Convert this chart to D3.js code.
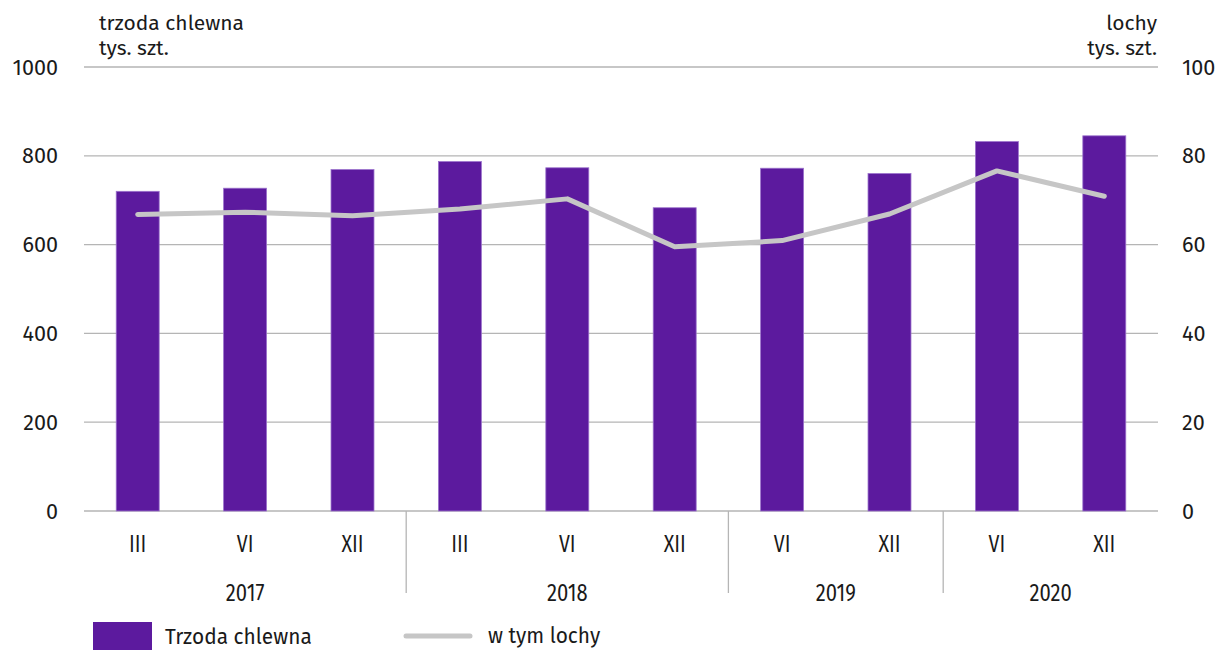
<!DOCTYPE html>
<html>
<head>
<meta charset="utf-8">
<script src="https://cdn.jsdelivr.net/npm/d3@7"></script>
<style>
  body { margin: 0; background: #fff; }
  svg text { font-family: "Fira Sans", "Noto Sans", "Open Sans", sans-serif; fill: #1a1a1a; }
</style>
</head>
<body>
<div id="container"></div>
<script>
// data
var months = ['III', 'VI', 'XII', 'III', 'VI', 'XII', 'VI', 'XII', 'VI', 'XII'];
var years = ['2017', '2017', '2017', '2018', '2018', '2018', '2019', '2019', '2020', '2020'];
var trzoda = [720, 727, 769, 787, 773, 683, 772, 760, 832, 845];
var lochy = [66.8, 67.3, 66.5, 68.0, 70.3, 59.5, 60.9, 66.9, 76.6, 70.9];
var leftTicks = [0, 200, 400, 600, 800, 1000];
var rightTicks = [0, 20, 40, 60, 80, 100];

var width = 1217, height = 650;
var margin = {top: 67, right: 59, bottom: 139, left: 84};

var svg = d3.select('#container').append('svg')
	.attr('width', width)
	.attr('height', height);

var keys = d3.range(trzoda.length);

var x = d3.scaleBand()
	.domain(keys)
	.range([margin.left, width - margin.right])
	.paddingInner(0.6)
	.paddingOuter(0.3);

var yL = d3.scaleLinear().domain([0, 1000]).range([height - margin.bottom, margin.top]);
var yR = d3.scaleLinear().domain([0, 100]).range([height - margin.bottom, margin.top]);

// text narrowed a bit horizontally, like the original
function label(parent, xx, yy, size, anchor, txt, sx) {
	return parent.append('text')
		.attr('transform', 'translate(' + xx + ',' + yy + ') scale(' + (sx || 1) + ',1)')
		.attr('text-anchor', anchor)
		.style('font-size', size + 'px')
		.text(txt);
}

// gridlines
svg.append('g')
	.selectAll('line')
	.data(leftTicks)
	.enter().append('line')
	.attr('x1', margin.left)
	.attr('x2', width - margin.right)
	.attr('y1', d => yL(d))
	.attr('y2', d => yL(d))
	.attr('stroke', '#b5b5b5')
	.attr('stroke-width', 1.3);

var gl = svg.append('g');
leftTicks.forEach(d => {
	label(gl, 58, yL(d) + 7.5, 22, 'end', d, 0.98);
});

var gr = svg.append('g');
rightTicks.forEach(d => {
	label(gr, 1182, yR(d) + 7.5, 22, 'start', d, 0.98);
});

// axis titles
label(svg, 99, 30, 21, 'start', 'trzoda chlewna', 1);
label(svg, 99, 55, 21, 'start', 'tys. szt.', 1);
label(svg, 1157, 30, 21, 'end', 'lochy', 1);
label(svg, 1157, 55, 21, 'end', 'tys. szt.', 1);

// bars
svg.append('g')
	.selectAll('rect')
	.data(keys)
	.enter().append('rect')
	.attr('x', i => x(i))
	.attr('width', x.bandwidth())
	.attr('y', i => yL(trzoda[i]))
	.attr('height', i => yL(0) - yL(trzoda[i]))
	.attr('fill', '#5c1a9e')
	.attr('stroke', '#9b72cc')
	.attr('stroke-width', 0.8);

// line
var line = d3.line()
	.x(i => x(i) + x.bandwidth() / 2)
	.y(i => yR(lochy[i]));

svg.append('path')
	.datum(keys)
	.attr('d', line)
	.attr('fill', 'none')
	.attr('stroke', '#c6c6c6')
	.attr('stroke-width', 5)
	.attr('stroke-linejoin', 'round')
	.attr('stroke-linecap', 'round');

// month labels
var gm = svg.append('g');
keys.forEach(i => {
	label(gm, x(i) + x.bandwidth() / 2, 552, 23, 'middle', months[i], 0.85);
});

// year groups
var step = x.step();
var x0 = x.range()[0];
var groups = d3.groups(keys, i => years[i]);

groups.forEach((g, gi) => {
	var first = g[1][0], last = g[1][g[1].length - 1];
	var left = x0 + first * step, right = x0 + (last + 1) * step;
	label(svg, (left + right) / 2, 601, 23, 'middle', g[0], 0.88);
	if (gi > 0) {
		svg.append('line')
			.attr('x1', left).attr('x2', left)
			.attr('y1', yL(0)).attr('y2', 593)
			.attr('stroke', '#b5b5b5')
			.attr('stroke-width', 1.3);
	}
});

// legend
var legend = svg.append('g');
legend.append('rect').attr('x', 93).attr('y', 622).attr('width', 59).attr('height', 30).attr('fill', '#5c1a9e');
label(legend, 165, 644, 22, 'start', 'Trzoda chlewna', 0.95);
legend.append('line').attr('x1', 406).attr('x2', 470).attr('y1', 636).attr('y2', 636)
	.attr('stroke', '#c6c6c6').attr('stroke-width', 5).attr('stroke-linecap', 'round');
label(legend, 488, 643, 22, 'start', 'w tym lochy', 0.95);
</script>
</body>
</html>
